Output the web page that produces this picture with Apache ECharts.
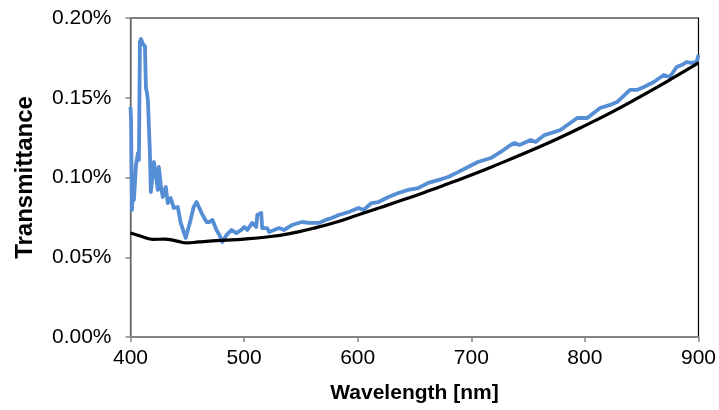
<!DOCTYPE html>
<html>
<head>
<meta charset="utf-8">
<script src="https://cdn.jsdelivr.net/npm/echarts@6/dist/echarts.min.js"></script>
<style>
html,body{margin:0;padding:0;background:#fff;}
#chart{width:719px;height:410px;}
</style>
</head>
<body>
<div id="chart"></div>
<script>
// Measured transmittance (%) vs wavelength (nm)
var measuredWl = [400,400.5,401.3,402.2,403,404.8,406.6,407.4,408.3,409.2,410.9,412.7,413.6,414.4,415.3,416.2,417,417.9,420.6,422.3,424.1,424.9,426.7,428.4,431.1,432.8,435.4,438.1,441.6,444.2,448.6,452.9,455.6,458.2,462.6,466.9,469.6,472.2,475.7,478.3,480.9,484.4,488.8,493.2,497.6,500.2,502.8,507.2,510.7,511.6,515.1,515.9,520.3,522.1,530.8,535.2,542.2,550.9,557.1,565.8,571.9,577.2,583.3,592.1,600.8,605.2,612.2,618.3,627.1,635.8,644.6,653.3,662.1,670.8,679.6,688.3,697.1,705.8,717.2,725.9,734.6,738.1,742.5,752.2,756.6,764.4,773.1,778.4,784.6,793.3,802.1,813.4,822.2,828.3,839.7,845.8,851.9,860.7,869.4,874.7,880.8,885.2,889.5,893.9,898.3,900];
var measuredVal = [0.1442,0.136,0.0796,0.0953,0.0859,0.1078,0.1154,0.111,0.185,0.1868,0.1837,0.1824,0.1561,0.1536,0.1486,0.1498,0.1172,0.0909,0.1097,0.1016,0.0922,0.1066,0.0953,0.0878,0.094,0.084,0.0871,0.0809,0.0815,0.0715,0.0621,0.0734,0.0815,0.0846,0.0777,0.0721,0.0721,0.0734,0.0671,0.0639,0.0596,0.0639,0.0671,0.0652,0.0671,0.069,0.0671,0.0715,0.069,0.0765,0.0777,0.0683,0.0683,0.0658,0.0683,0.0671,0.0702,0.0721,0.0715,0.0715,0.0734,0.0746,0.0765,0.0784,0.0809,0.0796,0.084,0.0846,0.0878,0.0903,0.0922,0.0934,0.0966,0.0984,0.1003,0.1034,0.1066,0.1097,0.1122,0.116,0.1204,0.1216,0.1204,0.1235,0.1223,0.1266,0.1285,0.1298,0.1329,0.1373,0.1373,0.1436,0.1455,0.1473,0.1549,0.1549,0.1567,0.1599,0.1643,0.163,0.1693,0.1705,0.1724,0.1718,0.1724,0.1768];
// Model transmittance (%) vs wavelength (nm)
var modelWl = [400,410,420,430,440,450,460,480,500,520,540,560,580,600,620,640,660,680,700,725,750,775,800,825,850,875,900];
var modelVal = [0.0652,0.0630,0.0612,0.0614,0.0603,0.0590,0.0596,0.0606,0.0614,0.0627,0.0648,0.0680,0.0718,0.0765,0.0812,0.0860,0.0910,0.0962,0.1015,0.1087,0.1162,0.1240,0.1325,0.1415,0.1512,0.1613,0.1718];
var xTicks = [400,500,600,700,800,900];
var yTicks = [0,0.05,0.10,0.15,0.20];

function zip(a,b){var r=[];for(var i=0;i<a.length;i++){r.push([a[i],b[i]]);}return r;}

var chart = echarts.init(document.getElementById('chart'), null, {renderer:'canvas'});
chart.setOption({
  animation:false,
  backgroundColor:'#ffffff',
  grid:{left:130.5,right:17,top:18,bottom:73,show:true,borderColor:'#000000',borderWidth:1.2,backgroundColor:'transparent'},
  xAxis:{
    type:'value',min:xTicks[0],max:xTicks[xTicks.length-1],interval:100,
    name:'Wavelength [nm]',nameLocation:'middle',nameGap:46,
    nameTextStyle:{fontFamily:'Liberation Sans, Arial',fontSize:21,fontWeight:'bold',color:'#000'},
    axisLine:{show:true,lineStyle:{color:'#868686',width:1.5}},
    axisTick:{show:true,length:5,lineStyle:{color:'#868686',width:1.5}},
    axisLabel:{fontFamily:'Liberation Sans, Arial',fontSize:21,color:'#000',margin:11},
    splitLine:{show:false}
  },
  yAxis:{
    type:'value',min:yTicks[0],max:yTicks[yTicks.length-1],interval:0.05,
    name:'Transmittance',nameLocation:'middle',nameGap:93,nameRotate:90,
    nameTextStyle:{fontFamily:'Liberation Sans, Arial',fontSize:24,fontWeight:'bold',color:'#000'},
    axisLine:{show:true,lineStyle:{color:'#868686',width:1.5}},
    axisTick:{show:true,length:5,lineStyle:{color:'#868686',width:1.5}},
    axisLabel:{fontFamily:'Liberation Sans, Arial',fontSize:21,color:'#000',margin:19,
      formatter:function(v){return v.toFixed(2)+'%';}},
    splitLine:{show:false}
  },
  series:[
    {type:'line',data:zip(measuredWl,measuredVal),showSymbol:false,smooth:false,
     lineStyle:{color:'#558ED5',width:3.8,join:'round'},itemStyle:{color:'#558ED5'},z:2},
    {type:'line',data:zip(modelWl,modelVal),showSymbol:false,smooth:true,
     lineStyle:{color:'#000000',width:3.2},itemStyle:{color:'#000'},z:3}
  ]
});
</script>
</body>
</html>
